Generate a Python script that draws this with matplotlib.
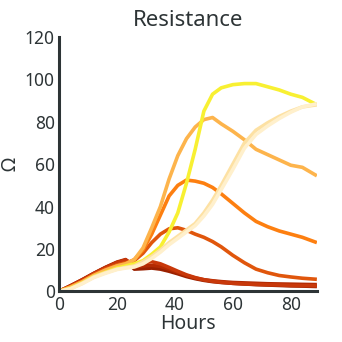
import numpy as np
import matplotlib
matplotlib.use("Agg")
import matplotlib.pyplot as plt

plt.rcParams['font.family'] = ['Noto Sans', 'DejaVu Sans']

# sample times (hours)
hours = [0, 4, 8, 12, 16, 20, 23, 26, 29, 32, 35, 38, 41, 44, 47, 50,
         53, 56, 60, 64, 68, 72, 76, 80, 84, 89]

# resistance curves, darkest first
darkest = [0, 2.6, 5.4, 8.4, 11.2, 13.6, 14.6, 10.5, 10.7, 11, 10.5, 9.5, 8.3, 7,
           6, 5.2, 4.6, 4.2, 3.8, 3.5, 3.2, 3, 2.8, 2.6, 2.5, 2.3]
dark_red = [0, 2.7, 5.5, 8.5, 11.3, 13.8, 15, 11.5, 12, 12.3, 11.8, 10.5, 9, 7.5,
            6.3, 5.5, 5, 4.6, 4.2, 4, 3.8, 3.6, 3.5, 3.4, 3.3, 3.2]
red = [0, 2.5, 5.3, 8.3, 11, 13.5, 14.8, 12.5, 13.5, 14, 13, 11.3, 9.5, 7.8,
       6.5, 5.5, 4.8, 4.3, 3.8, 3.5, 3.3, 3.1, 3, 2.8, 2.7, 2.6]
orange_red = [0, 2.3, 4.8, 8, 10.5, 12.5, 13.5, 14.5, 18, 23, 27, 29.5, 30, 28.8,
              27, 25.5, 23.5, 21, 17, 13.5, 10.5, 8.8, 7.5, 6.8, 6.2, 5.7]
orange = [0, 2, 4.5, 7.5, 10, 12, 13, 15, 19.5, 27, 36, 45, 50, 52.5,
          52, 51, 49, 46, 41.5, 37, 33, 30.5, 28.5, 27, 25.5, 23]
light_orange = [0, 2, 4.5, 7.5, 10, 12, 13, 15, 20.5, 30, 40, 53, 64, 72,
                77.5, 81, 82, 79, 75.5, 71.5, 67, 64.5, 62, 59.5, 58.5, 54.5]
yellow = [0, 1.5, 4, 7, 9, 11, 12, 13, 14.5, 17.5, 21, 28, 37, 51,
          67, 85, 93, 96, 97.5, 98, 98, 96.5, 95, 93, 91.5, 88]
cream = [0, 1.3, 3.8, 6.8, 8.8, 10.5, 11.3, 12, 14, 16.5, 19.5, 23, 26, 29,
         32, 37, 43, 50, 60, 70, 76, 79.5, 82.5, 85, 87, 88]
pale_cream = [0, 1.2, 3.6, 6.5, 8.5, 10.3, 11, 11.5, 13, 15.5, 18.5, 22, 25, 28,
              31, 35.5, 41, 48, 57.5, 67.5, 74, 78, 81.5, 84.5, 87, 88.5]

series = [darkest, dark_red, red, orange_red, orange, light_orange, yellow, cream, pale_cream]
colors = ['#9a2000', '#b32a02', '#c8380a', '#e0560c', '#fd7f10', '#fdb44c',
          '#f8f032', '#fde1a3', '#fff0cc']

ink = '#2d3436'

fig = plt.figure(figsize=(3.42, 3.42), dpi=100)
ax = fig.add_axes([0.1725, 0.148, 0.754, 0.744])

for vals, c in zip(series, colors):
    ax.plot(hours, vals, color=c, lw=2.6, solid_capstyle='butt')

ax.set_xlim(0, 89)
ax.set_ylim(0, 120)
ax.set_xticks([0, 20, 40, 60, 80])
ax.set_yticks([0, 20, 40, 60, 80, 100, 120])

for s in ['top', 'right']:
    ax.spines[s].set_visible(False)
for s in ['left', 'bottom']:
    ax.spines[s].set_color(ink)
    ax.spines[s].set_linewidth(2.2)

ax.tick_params(length=0, labelsize=12.5, colors=ink, pad=3)
ax.set_xlabel('Hours', fontsize=14, color=ink, labelpad=0)
ax.set_ylabel('Ω', fontsize=14, color=ink, labelpad=3)
ax.set_title('Resistance', fontsize=16, color=ink, pad=8)

fig.savefig('out.png', dpi=100)
